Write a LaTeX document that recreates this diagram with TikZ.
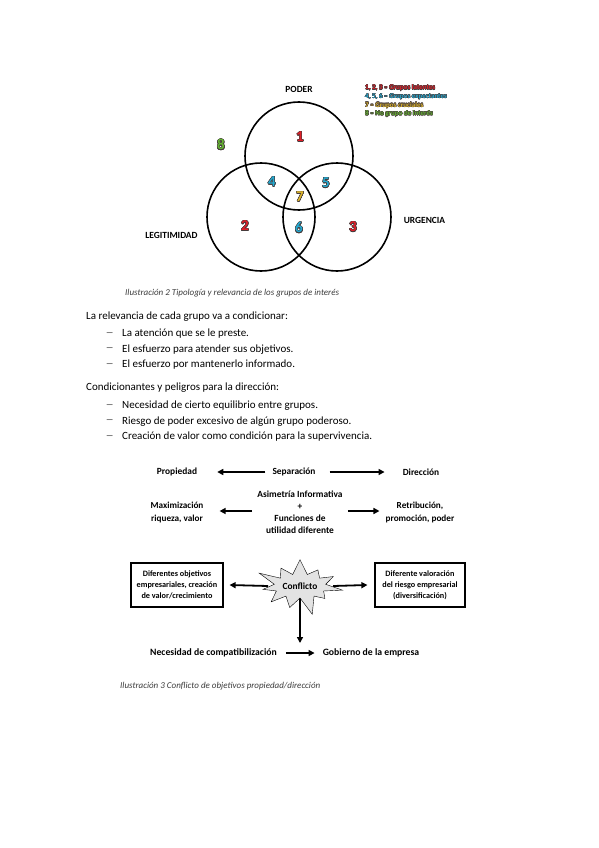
\documentclass[tikz,border=0pt]{standalone}
\usepackage{fontspec}
\setmainfont{Carlito}
\usepackage{contour}
\contourlength{0.5pt}
\usetikzlibrary{arrows.meta,shapes.symbols}
\definecolor{vred}{RGB}{225,30,40}
\definecolor{vcyan}{RGB}{35,170,210}
\definecolor{vyellow}{RGB}{225,185,45}
\definecolor{vgreen}{RGB}{100,180,50}
\definecolor{vdark}{RGB}{70,60,60}
\definecolor{capgray}{RGB}{60,60,60}
\newcommand{\onum}[2]{\contour{vdark}{\textcolor{#1}{#2}}}
\tikzset{
  venn/.style={draw=black, line width=1.6pt},
  vlabel/.style={font=\fontsize{9.4}{10}\selectfont\bfseries},
  vnum/.style={font=\fontsize{15}{16}\selectfont\bfseries},
  legend/.style={anchor=west, font=\fontsize{7}{7}\selectfont\bfseries, inner sep=0pt},
  caption/.style={anchor=west, font=\fontsize{9}{10}\selectfont\itshape, text=capgray, inner sep=0pt},
  body/.style={anchor=west, font=\fontsize{11}{12}\selectfont, inner sep=0pt},
  dashmark/.style={anchor=west, font=\fontsize{8}{12}\selectfont, inner sep=0pt},
  dtext/.style={font=\fontsize{9.4}{12}\selectfont\bfseries, align=center, inner sep=1pt},
  boxt/.style={draw=black, line width=1.2pt, font=\fontsize{8.2}{11}\selectfont\bfseries, align=center, minimum width=92pt, minimum height=44pt, inner sep=1pt},
  arr/.style={line width=1.8pt, -{Triangle[length=6pt,width=6pt]}},
}
\begin{document}
\begin{tikzpicture}[x=1pt,y=-1pt]
\useasboundingbox[fill=white] (0,0) rectangle (599,848);
% Venn
\draw[venn] (299,156) circle[radius=54pt];
\draw[venn] (261,217) circle[radius=54pt];
\draw[venn] (337,217) circle[radius=54pt];
\node[vlabel] (poder) at (299,89) {PODER};
\node[vlabel] (legit) at (171.5,235) {LEGITIMIDAD};
\node[vlabel] (urg) at (424.5,220) {URGENCIA};
\node[vnum] (n1) at (300,137) {\onum{vred}{1}};
\node[vnum] (n8) at (221,145) {\onum{vgreen}{8}};
\node[vnum] (n4) at (272,182) {\onum{vcyan}{4}};
\node[vnum] (n5) at (326,183) {\onum{vcyan}{5}};
\node[vnum] (n7) at (300,197) {\onum{vyellow}{7}};
\node[vnum] (n2) at (245,226) {\onum{vred}{2}};
\node[vnum] (n6) at (299,228) {\onum{vcyan}{6}};
\node[vnum] (n3) at (353,227) {\onum{vred}{3}};
\contourlength{0.3pt}
\node[legend] (lg1) at (365,88) {\onum{vred}{1, 2, 3 – Grupos latentes}};
\node[legend] (lg2) at (365,97) {\onum{vcyan}{4, 5, 6 – Grupos expectantes}};
\node[legend] (lg3) at (365,105.5) {\onum{vyellow}{7 – Grupos cruciales}};
\node[legend] (lg4) at (365,114) {\onum{vgreen}{8 – No grupo de interés}};
\node[caption] (cap2) at (125,293) {Ilustración 2 Tipología y relevancia de los grupos de interés};
% Body text
\node[body] (t1) at (86,317) {La relevancia de cada grupo va a condicionar:};
\node[dashmark] (d1) at (106,334) {—};
\node[body] (b1) at (122,334) {La atención que se le preste.};
\node[dashmark] (d2) at (106,349.5) {—};
\node[body] (b2) at (122,349.5) {El esfuerzo para atender sus objetivos.};
\node[dashmark] (d3) at (106,365) {—};
\node[body] (b3) at (122,365) {El esfuerzo por mantenerlo informado.};
\node[body] (t2) at (86,388) {Condicionantes y peligros para la dirección:};
\node[dashmark] (d4) at (106,406) {—};
\node[body] (b4) at (122,406) {Necesidad de cierto equilibrio entre grupos.};
\node[dashmark] (d5) at (106,421.5) {—};
\node[body] (b5) at (122,421.5) {Riesgo de poder excesivo de algún grupo poderoso.};
\node[dashmark] (d6) at (106,437) {—};
\node[body] (b6) at (122,437) {Creación de valor como condición para la supervivencia.};
% Diagram 2
\node[dtext] (prop) at (177,472) {Propiedad};
\node[dtext] (sep) at (294,472) {Separación};
\node[dtext] (dir) at (421,472) {Dirección};
\draw[arr, shorten <=6pt, shorten >=19pt] (sep) -- (prop);
\draw[arr, shorten <=13pt, shorten >=17pt] (sep) -- (dir);
\node[dtext] (asim) at (300,512) {Asimetría Informativa\\+\\Funciones de\\utilidad diferente};
\node[dtext, font=\fontsize{9.2}{13}\selectfont\bfseries] (maxi) at (177,512) {Maximización\\riqueza, valor};
\node[dtext, font=\fontsize{9.2}{13}\selectfont\bfseries] (retr) at (420,512) {Retribución,\\promoción, poder};
\draw[arr] ([xshift=-4pt,yshift=1pt]asim.west) -- ([xshift=15pt,yshift=1pt]maxi.east);
\draw[arr] ([xshift=4pt,yshift=1pt]asim.east) -- ([xshift=-5pt,yshift=1pt]retr.west);
\node[boxt] (bl) at (177,585) {Diferentes objetivos\\empresariales, creación\\de valor/crecimiento};
\node[boxt, minimum width=90pt] (br) at (420,585) {Diferente valoración\\del riesgo empresarial\\(diversificación)};
\node[starburst, draw=black, thin, fill=gray!22, starburst points=11, starburst point height=20pt, minimum width=80pt, minimum height=64pt, inner sep=1pt, font=\fontsize{9.4}{10}\selectfont\bfseries] (conf) at (300,586) {Conflicto};
\draw[arr] ([xshift=-2pt]conf.west) -- ([xshift=6pt]bl.east);
\draw[arr] ([xshift=2pt]conf.east) -- ([xshift=-7pt]br.west);
\node[dtext, font=\fontsize{9.7}{11}\selectfont\bfseries] (nec) at (213.5,653) {Necesidad de compatibilización};
\node[dtext, font=\fontsize{9.7}{11}\selectfont\bfseries] (gob) at (371,653) {Gobierno de la empresa};
\coordinate (down) at (300,643);
\draw[arr] (conf.south) -- (down);
\draw[arr, shorten <=8pt, shorten >=7pt] (nec) -- (gob);
\node[caption] (cap3) at (120,686) {Ilustración 3 Conflicto de objetivos propiedad/dirección};
\end{tikzpicture}
\end{document}
